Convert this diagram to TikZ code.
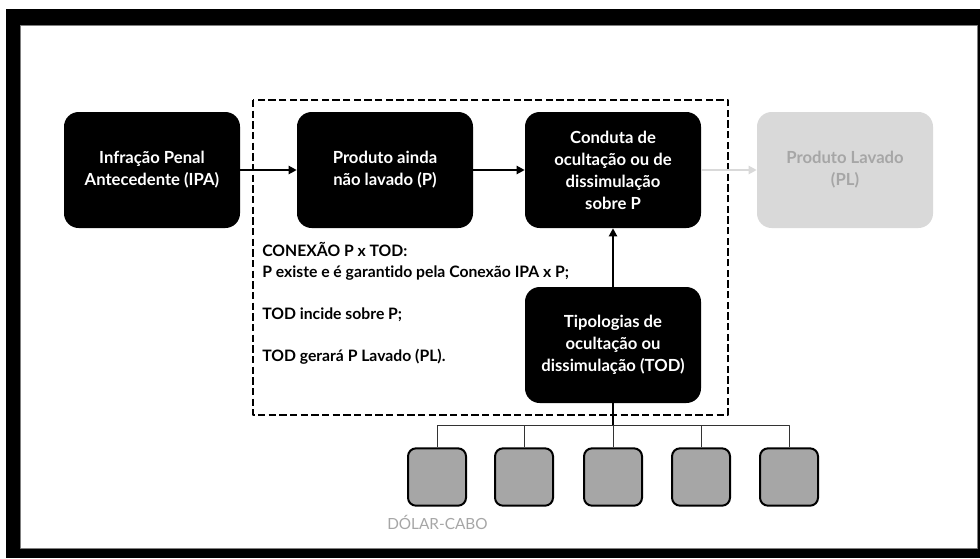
\documentclass[tikz,border=0pt]{standalone}
\usepackage{fontspec}
\setmainfont[Ligatures={NoCommon,TeX}]{Lato}
\usepackage{xcolor}
\usepackage{tikz}
\usetikzlibrary{arrows.meta,positioning}
\definecolor{ghost}{HTML}{D9D9D9}
\definecolor{ghosttext}{HTML}{A6A6A6}
\definecolor{leaf}{HTML}{A6A6A6}
\definecolor{edge}{HTML}{7F7F7F}
\tikzset{
  StepBox/.style={
    fill=black, text=white,
    rounded corners=11pt,
    minimum width=132pt, minimum height=87pt,
    align=center, inner sep=0pt,
    font=\bfseries\fontsize{12.5}{16.5}\selectfont
  },
  GhostBox/.style={StepBox, fill=ghost, text=ghosttext},
  LeafBox/.style={
    draw=black, line width=1.5pt, fill=leaf,
    rounded corners=6pt,
    minimum width=43.5pt, minimum height=43pt
  },
  Flow/.style={line width=1.5pt, -{Triangle[length=6pt,width=6pt]}},
  GhostFlow/.style={Flow, draw=ghost},
  ZoneLine/.style={line width=1.5pt, dash pattern=on 5.5pt off 2.5pt},
  BranchLine/.style={line width=0.75pt, draw=black!80}
}

\begin{document}
\begin{tikzpicture}[x=0.75pt, y=-0.75pt, line join=round]
  % page and screen frame
  \fill[white] (0,0) rectangle (980,558);
  \fill[black] (6,9) rectangle (980,558);
  \fill[white] (20,25) rectangle (977,548);
  \draw[edge, line width=0.5pt] (20,25) rectangle (977,548);

  % dashed zone (P x TOD)
  \draw[ZoneLine] (253,100) rectangle (728,415);

  % main chain
  \node[StepBox] (ipa) at (152,170) {Infração Penal\\Antecedente (IPA)};
  \node[StepBox] (prod) at (385,170) {Produto ainda\\não lavado (P)};
  \node[StepBox] (conduta) at (613,170) {Conduta de\\ocultação ou de\\dissimulação\\sobre P};
  \node[GhostBox] (lavado) at (845,170) {Produto Lavado\\(PL)};
  \node[StepBox] (tod) at (613,345) {Tipologias de\\ocultação ou\\dissimulação (TOD)};

  \draw[Flow] (ipa) -- (prod);
  \draw[Flow] (prod) -- (conduta);
  \draw[GhostFlow] (conduta) -- (lavado);
  \draw[Flow] (tod) -- (conduta);

  % conexao P x TOD
  \node[anchor=north west, align=left, inner sep=0pt,
        font=\bfseries\fontsize{11.8}{15.75}\selectfont] (nota) at (262,242)
    {CONEXÃO P x TOD:\\
     P existe e é garantido pela Conexão IPA x P;\\[15.75pt]
     TOD incide sobre P;\\[15.75pt]
     TOD gerará P Lavado (PL).};

  % typologies
  \coordinate (bus) at (613,425);
  \draw[line width=1.5pt] (tod) -- (bus);
  \foreach \x [count=\i] in {437,524,613,701,789}
    \node[LeafBox] (leaf\i) at (\x,477) {};
  \foreach \i in {1,...,5}
    \draw[BranchLine] (leaf\i.north) |- (bus);

  \node[anchor=west, inner sep=0pt, text=ghosttext,
        font=\fontsize{11.5}{14}\selectfont] (dolar) at (387,522) {DÓLAR-CABO};
\end{tikzpicture}
\end{document}
